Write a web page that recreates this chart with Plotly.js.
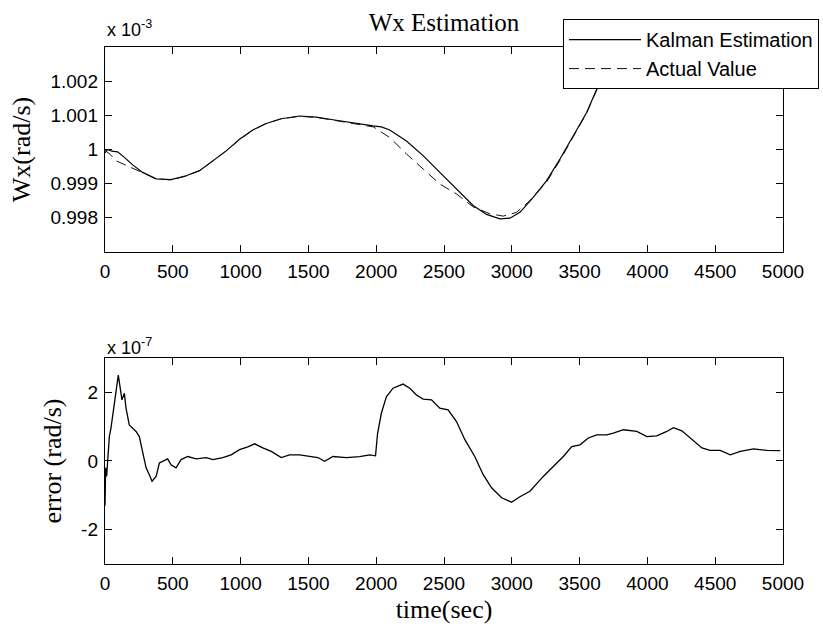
<!DOCTYPE html>
<html>
<head>
<meta charset="utf-8">
<script src="https://cdn.plot.ly/plotly-3.0.1.min.js"></script>
<style>
  html, body { margin: 0; padding: 0; background: #ffffff; }
  #chart { width: 823px; height: 628px; }
</style>
</head>
<body>
<div id="chart"></div>
<script>
// Angular rate Wx, in units of 1e-3 rad/s
var kalmanTime = [0, 20, 50, 93, 143, 204, 278, 377, 487, 598,
  697, 795, 894, 992, 1090, 1189, 1300, 1435, 1558, 1681,
  1804, 1866, 1976, 2038, 2100, 2223, 2346, 2469, 2592, 2715,
  2814, 2912, 2986, 3060, 3158, 3257, 3355, 3453, 3552, 3626,
  3700, 3780];
var kalmanWx = [0.99990, 1.00000, 0.99995, 0.99993, 0.99977, 0.99955, 0.99933, 0.99914, 0.99912, 0.99923,
  0.99938, 0.99967, 0.99996, 1.00030, 1.00057, 1.00076, 1.00090, 1.00098, 1.00095, 1.00087,
  1.00079, 1.00074, 1.00069, 1.00066, 1.00057, 1.00025, 0.99982, 0.99933, 0.99885, 0.99836,
  0.99810, 0.99797, 0.99799, 0.99816, 0.99860, 0.99909, 0.99972, 1.00040, 1.00108, 1.00176,
  1.00245, 1.00318];

var actualTime = [0, 40, 81, 192, 300, 377, 487, 598, 697, 795,
  894, 992, 1090, 1189, 1300, 1435, 1558, 1681, 1804, 1900,
  1980, 2100, 2223, 2346, 2469, 2592, 2715, 2838, 2937, 3035,
  3133, 3257, 3355, 3453, 3552, 3626, 3700, 3780];
var actualWx = [0.99998, 0.99985, 0.99967, 0.99946, 0.99928, 0.99914, 0.99911, 0.99922, 0.99938, 0.99966,
  0.99996, 1.00029, 1.00057, 1.00076, 1.00090, 1.00097, 1.00094, 1.00086, 1.00078, 1.00073,
  1.00066, 1.00035, 0.99987, 0.99943, 0.99899, 0.99870, 0.99832, 0.99812, 0.99805, 0.99816,
  0.99850, 0.99905, 0.99968, 1.00037, 1.00106, 1.00174, 1.00243, 1.00316];

// Estimation error, in units of 1e-7 rad/s
var errorTime = [0, 5, 12, 32, 44, 56, 69, 81, 98, 111,
  125, 143, 155, 179, 204, 229, 253, 278, 303, 327,
  347, 377, 401, 425, 462, 487, 524, 561, 610, 672,
  746, 795, 869, 930, 992, 1053, 1103, 1164, 1226, 1300,
  1361, 1435, 1509, 1570, 1620, 1681, 1780, 1878, 1952, 1995,
  2010, 2038, 2075, 2124, 2198, 2248, 2297, 2346, 2408, 2469,
  2530, 2592, 2654, 2727, 2789, 2851, 2925, 2998, 3060, 3134,
  3232, 3306, 3380, 3442, 3503, 3564, 3626, 3700, 3749, 3823,
  3922, 3996, 4069, 4143, 4192, 4254, 4328, 4402, 4463, 4537,
  4611, 4685, 4783, 4882, 4980];
var errorVal = [-1.3, -0.2, -0.45, 0.71, 0.96, 1.29, 1.68, 1.97, 2.5, 2.16,
  1.78, 1.97, 1.54, 1.05, 0.96, 0.86, 0.71, 0.23, -0.2, -0.4,
  -0.59, -0.45, -0.06, -0.01, 0.06, -0.11, -0.2, 0.04, 0.13, 0.06,
  0.1, 0.04, 0.1, 0.18, 0.33, 0.41, 0.5, 0.38, 0.28, 0.1,
  0.18, 0.18, 0.13, 0.1, -0.01, 0.13, 0.1, 0.13, 0.18, 0.15,
  0.8, 1.39, 1.87, 2.12, 2.24, 2.12, 1.92, 1.8, 1.78, 1.54,
  1.49, 1.15, 0.62, 0.13, -0.4, -0.78, -1.07, -1.2, -1.04, -0.88,
  -0.45, -0.16, 0.13, 0.42, 0.47, 0.67, 0.76, 0.76, 0.81, 0.91,
  0.86, 0.71, 0.73, 0.86, 0.97, 0.88, 0.62, 0.38, 0.31, 0.31,
  0.18, 0.28, 0.35, 0.31, 0.3];

// Tick positions and labels
var timeTicks = [0, 500, 1000, 1500, 2000, 2500, 3000, 3500, 4000, 4500, 5000];
var wxTickVals = [0.998, 0.999, 1.0, 1.001, 1.002];
var wxTickText = ['0.998', '0.999', '1', '1.001', '1.002'];
var errTickVals = [-2, 0, 2];
var errTickText = ['-2', '0', '2'];

var SANS = 'Liberation Sans, Arial, sans-serif';
var SERIF = 'Liberation Serif, Times New Roman, serif';

var traces = [
  {
    x: kalmanTime, y: kalmanWx, type: 'scatter', mode: 'lines',
    name: 'Kalman Estimation', xaxis: 'x', yaxis: 'y',
    line: { color: '#000000', width: 1.2 }
  },
  {
    x: actualTime, y: actualWx, type: 'scatter', mode: 'lines',
    name: 'Actual Value', xaxis: 'x', yaxis: 'y',
    line: { color: '#111111', width: 1, dash: '10px,6px' }
  },
  {
    x: errorTime, y: errorVal, type: 'scatter', mode: 'lines',
    name: 'error', xaxis: 'x2', yaxis: 'y2', showlegend: false,
    line: { color: '#000000', width: 1.3 }
  }
];

function axisBase() {
  return {
    showline: true, linecolor: '#000000', linewidth: 1.2, mirror: 'ticks',
    ticks: 'inside', ticklen: 7, tickwidth: 1, tickcolor: '#000000',
    showgrid: false, zeroline: false,
    tickfont: { family: SANS, size: 19, color: '#000000' },
    ticklabelstandoff: 2
  };
}

var xTop = Object.assign(axisBase(), {
  domain: [0, 1], anchor: 'y', range: [0, 5000],
  tickmode: 'array', tickvals: timeTicks, ticktext: timeTicks.map(String)
});
var yTop = Object.assign(axisBase(), {
  domain: [0.6035, 1], anchor: 'x', range: [0.997, 1.003],
  tickmode: 'array', tickvals: wxTickVals, ticktext: wxTickText,
  title: { text: 'Wx(rad/s)', font: { family: SERIF, size: 26, color: '#000000' }, standoff: 12 }
});
var xBot = Object.assign(axisBase(), {
  domain: [0, 1], anchor: 'y2', range: [0, 5000],
  tickmode: 'array', tickvals: timeTicks, ticktext: timeTicks.map(String),
  title: { text: 'time(sec)', font: { family: SERIF, size: 26, color: '#000000' }, standoff: 6 }
});
var yBot = Object.assign(axisBase(), {
  domain: [0, 0.3985], anchor: 'x2', range: [-3, 3],
  tickmode: 'array', tickvals: errTickVals, ticktext: errTickText,
  title: { text: 'error (rad/s)', font: { family: SERIF, size: 26, color: '#000000' }, standoff: 12 }
});

var layout = {
  width: 823, height: 628,
  margin: { l: 105, r: 40, t: 47, b: 64, autoexpand: false },
  paper_bgcolor: '#ffffff', plot_bgcolor: '#ffffff',
  title: {
    text: 'Wx Estimation',
    font: { family: SERIF, size: 25, color: '#000000' },
    x: 0.5, xref: 'paper', xanchor: 'center',
    y: 0.965, yref: 'container', yanchor: 'middle'
  },
  showlegend: true,
  legend: {
    x: 0.6755, y: 1.054, xanchor: 'left', yanchor: 'top',
    bgcolor: '#ffffff', bordercolor: '#000000', borderwidth: 1,
    font: { family: SANS, size: 20, color: '#000000' },
    itemwidth: 72, tracegroupgap: 0
  },
  xaxis: xTop, yaxis: yTop, xaxis2: xBot, yaxis2: yBot,
  annotations: [
    {
      text: 'x 10<sup>-3</sup>', xref: 'paper', yref: 'paper',
      x: 0, y: 1.035, xanchor: 'left', yanchor: 'middle', showarrow: false,
      font: { family: SANS, size: 18, color: '#000000' }
    },
    {
      text: 'x 10<sup>-7</sup>', xref: 'paper', yref: 'paper',
      x: 0, y: 0.42, xanchor: 'left', yanchor: 'middle', showarrow: false,
      font: { family: SANS, size: 18, color: '#000000' }
    }
  ]
};

Plotly.newPlot('chart', traces, layout, { staticPlot: true, displayModeBar: false });
</script>
</body>
</html>
